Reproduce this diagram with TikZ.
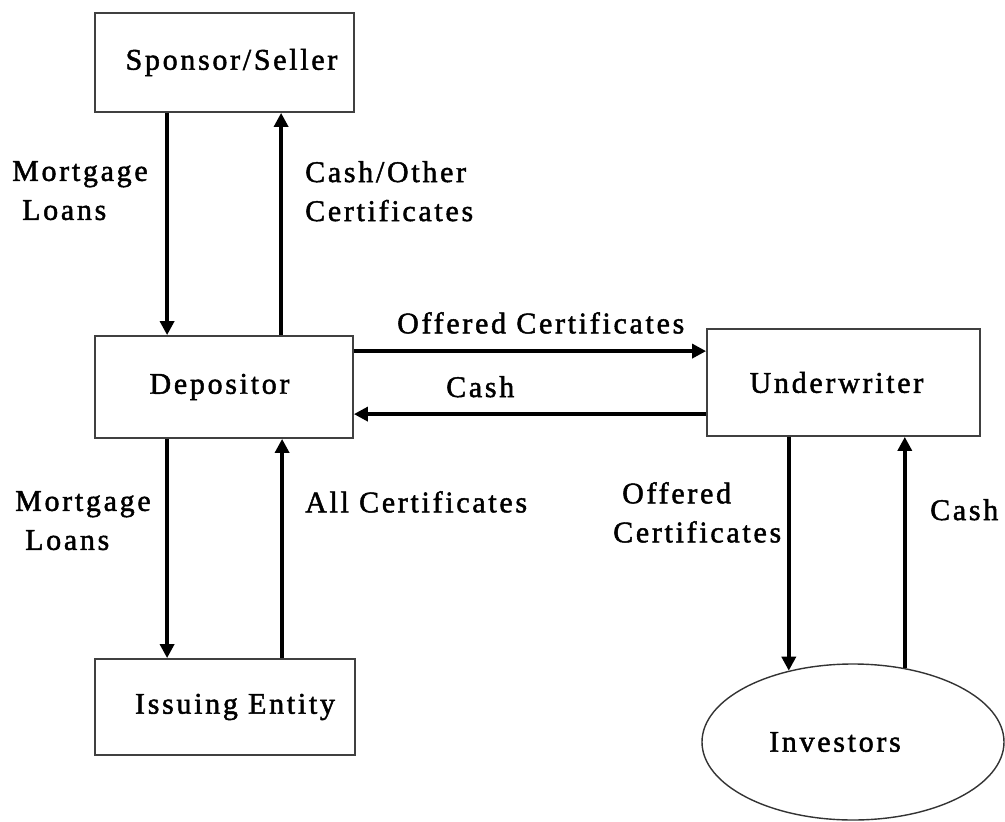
\documentclass[tikz,border=0pt]{standalone}
\usepackage{fontspec}
\setmainfont{Liberation Serif}[LetterSpace=9,FakeBold=1.6]
\usetikzlibrary{arrows.meta,shapes.geometric}
\begin{document}
\begin{tikzpicture}[x=1pt,y=-1pt,
  font=\fontsize{30}{39}\selectfont,
  entity/.style={draw=black!75,line width=1.8pt,rectangle,inner sep=0pt},
  flow/.style={line width=3.4pt,-{Triangle[length=14pt,width=14pt]}},
  lbl/.style={anchor=north west,inner sep=0pt,align=left}]
\useasboundingbox[fill=white] (0,0) rectangle (1005,822);

% parties
\node[entity,minimum width=259pt,minimum height=99pt] (sponsor) at (224.5,62.5) {\hspace*{14pt}Sponsor/Seller};
\node[entity,minimum width=258pt,minimum height=102pt] (depositor) at (224,387) {Depositor\hspace*{9pt}};
\node[entity,minimum width=260pt,minimum height=96pt] (issuing) at (225,707) {\hspace*{20pt}Issuing Entity};
\node[entity,minimum width=273pt,minimum height=107pt] (underwriter) at (843.5,382.5) {Underwriter\hspace*{14pt}};
\node[ellipse,draw=black!80,line width=1.4pt,minimum width=302pt,minimum height=156pt,inner sep=0pt] (investors) at (853,742) {Investors\hspace*{36pt}};

% flows between sponsor and depositor
\draw[flow] ([xshift=73pt]sponsor.south west) -- ([xshift=73pt]depositor.north west);
\draw[flow] ([xshift=187pt]depositor.north west) -- ([xshift=187pt]sponsor.south west);

% flows between depositor and underwriter
\coordinate (offstart) at ([yshift=-16pt]depositor.north east);
\coordinate (cashstart) at ([yshift=-86pt]underwriter.north west);
\draw[flow] (offstart) -- (offstart -| underwriter.west);
\draw[flow] (cashstart) -- (cashstart -| depositor.east);

% flows between depositor and issuing entity
\draw[flow] ([xshift=73pt]depositor.south west) -- ([xshift=73pt]issuing.north west);
\draw[flow] ([xshift=188pt]issuing.north west) -- ([xshift=188pt]depositor.south west);

% flows between underwriter and investors
\draw[flow] (underwriter.south -| investors.132) -- (investors.132);
\draw[flow] (investors.55) -- (investors.55 |- underwriter.south);

% flow labels
\node[lbl] (loansA) at (12,161) {Mortgage\\\hspace*{10pt}Loans};
\node[lbl] (cashother) at (305,161) {Cash/Other\\Certificates};
\node[lbl] (offeredA) at (397,312) {Offered Certificates};
\node[lbl] (cashA) at (446,376) {Cash};
\node[lbl] (loansB) at (15,491) {Mortgage\\\hspace*{10pt}Loans};
\node[lbl] (allcert) at (305,491) {All Certificates};
\node[lbl] (offeredB) at (613,482) {\hspace*{9pt}Offered\\Certificates};
\node[lbl] (cashB) at (930,499) {Cash};
\end{tikzpicture}
\end{document}
